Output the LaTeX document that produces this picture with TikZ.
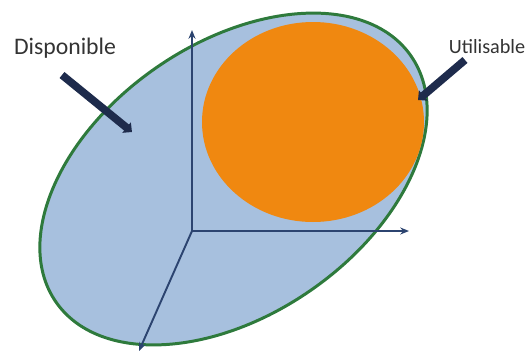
\documentclass[tikz,border=0pt]{standalone}
\usepackage{fontspec}
\setmainfont{Carlito}
\usetikzlibrary{arrows.meta}
\definecolor{fondbleu}{HTML}{A7C0DE}
\definecolor{bordvert}{HTML}{2E7A3C}
\definecolor{orangeu}{HTML}{F08810}
\definecolor{axebleu}{HTML}{2C4470}
\definecolor{flechebleu}{HTML}{1E2B4C}
\begin{document}
\begin{tikzpicture}[
    axe/.style={axebleu, line width=1.1pt, -{Stealth[length=5pt, width=4pt]}},
    pointeur/.style={flechebleu, line width=4.4pt, -{Triangle[length=4pt, width=7.5pt]}},
    etiquette/.style={text=black!80, inner sep=1pt}]
  \useasboundingbox (0, 0) rectangle (10.5, 7.06);

  %% --- 全体（Disponible）の楕円 ---
  \draw[bordvert, line width=1.7pt, fill=fondbleu]
    (4.67, 3.48) ellipse [x radius=4.32, y radius=2.71, rotate=34.7];

  %% --- 利用可能部分（Utilisable） ---
  \fill[orangeu] (6.26, 4.62) ellipse [x radius=2.22, y radius=2.0];

  %% --- 座標軸 ---
  \coordinate (O) at (3.84, 2.44);
  \coordinate (Ex) at (8.18, 2.44);
  \coordinate (Ey) at (3.84, 6.46);
  \coordinate (Ez) at (2.78, 0.04);
  \draw[axe] (O) -- (Ex);
  \draw[axe] (O) -- (Ey);
  \draw[axe] (O) -- (Ez);

  %% --- ラベルと矢印 ---
  \node[etiquette, font=\fontsize{13.5}{15}\selectfont] (dispo) at (1.30, 6.10) {Disponible};
  \coordinate (dispoA) at (1.24, 5.56);
  \coordinate (dispoB) at (2.64, 4.42);
  \draw[pointeur] (dispoA) -- (dispoB);

  \node[etiquette, font=\fontsize{11.5}{13}\selectfont] (util) at (9.74, 6.12) {Utilisable};
  \coordinate (utilA) at (9.30, 5.86);
  \coordinate (utilB) at (8.36, 5.06);
  \draw[pointeur] (utilA) -- (utilB);
\end{tikzpicture}
\end{document}
